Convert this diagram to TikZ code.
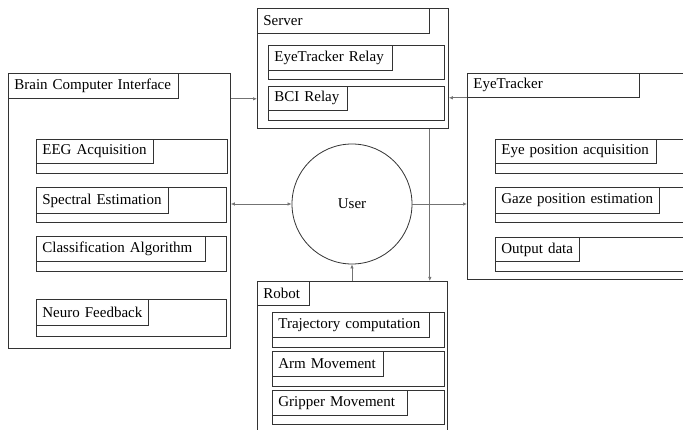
\documentclass[tikz,border=0pt]{standalone}
\usepackage{fontspec}
\setmainfont{Liberation Serif}
\usetikzlibrary{arrows.meta,calc}
\begin{document}
\begin{tikzpicture}[x=1pt,y=-1pt,
  outer/.style={draw=black!80,line width=0.8pt,anchor=north west,inner sep=0pt},
  lbl/.style={draw=black!80,line width=0.8pt,anchor=north west,inner xsep=6pt,inner ysep=0pt,align=left,
    font=\fontsize{15}{17}\selectfont},
  arr/.style={draw=black!55,line width=0.7pt,-{Latex[length=4pt,width=3.5pt]}},
  darr/.style={draw=black!55,line width=0.7pt,{Latex[length=4pt,width=3.5pt]}-{Latex[length=4pt,width=3.5pt]}}]
\useasboundingbox (0,0) rectangle (683,430);
\clip (0,0) rectangle (683,430);
% BCI
\node[outer,minimum width=222pt,minimum height=275pt] (bci) at (8,73) {};
\node[lbl,text width=158pt,minimum height=25pt] (bcit) at (bci.north west) {Brain Computer Interface};
\node[outer,minimum width=191pt,minimum height=34pt] (eeg) at (36,139) {};
\node[lbl,text width=105pt,minimum height=24pt] (eegt) at (eeg.north west) {EEG Acquisition};
\node[outer,minimum width=190pt,minimum height=35pt] (spe) at (36,187) {};
\node[lbl,text width=120pt,minimum height=26pt] (spet) at (spe.north west) {Spectral Estimation};
\node[outer,minimum width=190pt,minimum height=35pt] (cla) at (36,236) {};
\node[lbl,text width=157pt,minimum height=25pt] (clat) at (cla.north west) {Classification Algorithm};
\node[outer,minimum width=190pt,minimum height=37pt] (neu) at (36,299) {};
\node[lbl,text width=100pt,minimum height=26pt] (neut) at (neu.north west) {Neuro Feedback};
% Server
\node[outer,minimum width=191pt,minimum height=120pt] (srv) at (257,8) {};
\node[lbl,text width=160pt,minimum height=25pt] (srvt) at (srv.north west) {Server};
\node[outer,minimum width=176pt,minimum height=34pt] (etr) at (268,45) {};
\node[lbl,text width=112pt,minimum height=25pt] (etrt) at (etr.north west) {EyeTracker Relay};
\node[outer,minimum width=176pt,minimum height=34pt] (bcr) at (268,86) {};
\node[lbl,text width=67pt,minimum height=24pt] (bcrt) at (bcr.north west) {BCI Relay};
% EyeTracker
\node[outer,minimum width=240pt,minimum height=206pt] (et) at (467,73) {};
\node[lbl,text width=160pt,minimum height=24pt] (ett) at (et.north west) {EyeTracker};
\node[outer,minimum width=220pt,minimum height=34pt] (eyp) at (495,139) {};
\node[lbl,text width=149pt,minimum height=24pt] (eypt) at (eyp.north west) {Eye position acquisition};
\node[outer,minimum width=220pt,minimum height=35pt] (gaz) at (495,187) {};
\node[lbl,text width=152pt,minimum height=26pt] (gazt) at (gaz.north west) {Gaze position estimation};
\node[outer,minimum width=220pt,minimum height=34pt] (out) at (495,237) {};
\node[lbl,text width=72pt,minimum height=24pt] (outt) at (out.north west) {Output data};
% Robot
\node[outer,minimum width=190pt,minimum height=160pt] (rob) at (257,281) {};
\node[lbl,text width=40pt,minimum height=24pt] (robt) at (rob.north west) {Robot};
\node[outer,minimum width=172pt,minimum height=35pt] (tra) at (272,312) {};
\node[lbl,text width=145pt,minimum height=25pt] (trat) at (tra.north west) {Trajectory computation};
\node[outer,minimum width=172pt,minimum height=35pt] (arm) at (272,351) {};
\node[lbl,text width=99pt,minimum height=25pt] (armt) at (arm.north west) {Arm Movement};
\node[outer,minimum width=172pt,minimum height=34pt] (gri) at (272,390) {};
\node[lbl,text width=123pt,minimum height=25pt] (grit) at (gri.north west) {Gripper Movement};
% User
\node[circle,draw=black!80,line width=0.8pt,minimum size=120pt,inner sep=0pt,font=\fontsize{15}{18}\selectfont] (user) at (352,204) {User};
% connectors
\draw[arr] (bcit.south -| bci.east) -- (bcit.south -| srv.west);
\draw[arr] (ett.south -| et.west) -- (ett.south -| srv.east);
\draw[arr] (srvt.south east |- srv.south) -- (srvt.south east |- rob.north);
\draw[darr] (user.west -| bci.east) -- (user.west);
\draw[arr] (user.east) -- (user.east -| et.west);
\draw[arr] (user.south |- rob.north) -- (user.south);
\end{tikzpicture}
\end{document}
